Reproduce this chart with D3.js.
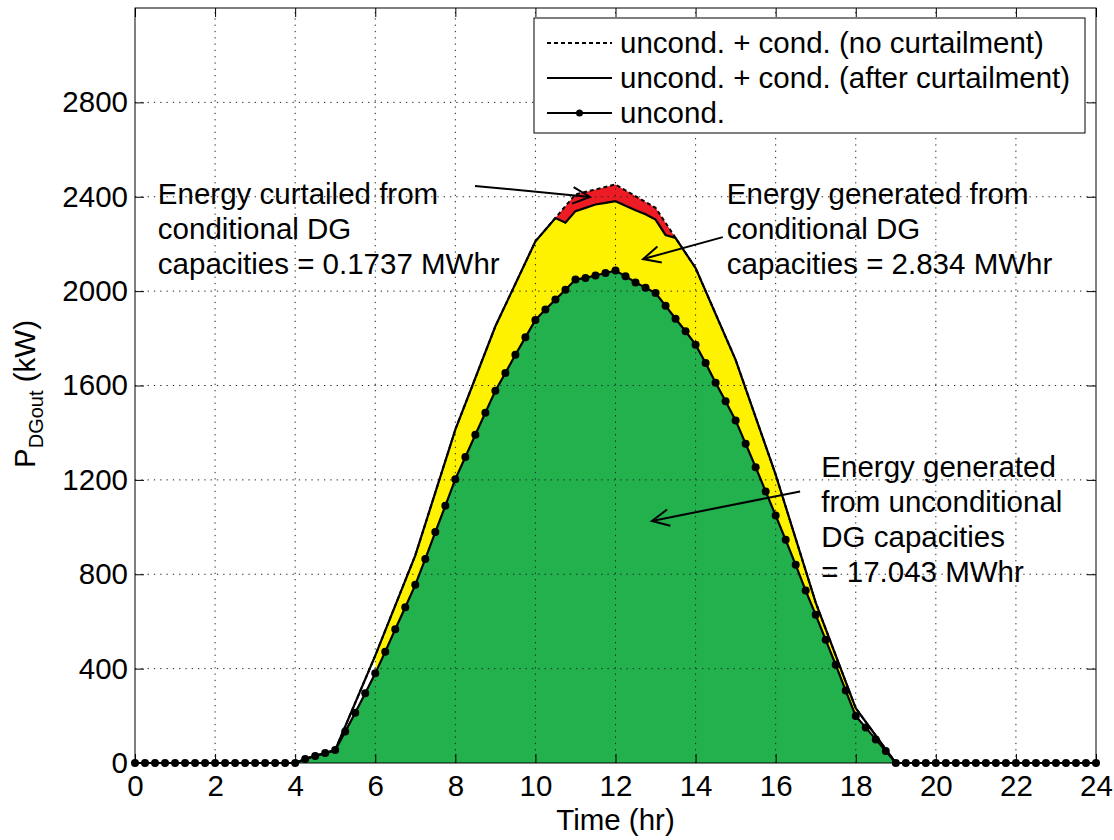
<!DOCTYPE html>
<html>
<head>
<meta charset="utf-8">
<script src="https://cdn.jsdelivr.net/npm/d3@7"></script>
<style>
  body { margin: 0; background: #fff; }
  svg { display: block; }
  text { font-family: "Liberation Sans", Arial, Helvetica, sans-serif; fill: #000; }
</style>
</head>
<body>
<svg id="chart" width="1114" height="840"></svg>
<script>
// Unconditional DG output, sampled every 15 minutes from 0:00 to 24:00 (kW)
const uncondTimes = d3.range(0, 24.001, 0.25);
const uncondKW = [
  0, 0, 0, 0, 0, 0, 0, 0, 0, 0, 0, 0, 0, 0, 0, 0, 0,          // 0:00 - 4:00
  17, 30, 42, 55,                                              // 4:15 - 5:00
  133, 213, 296, 380, 472, 567, 660, 755,                      // 5:15 - 7:00
  865, 979, 1090, 1203, 1297, 1391, 1485, 1578,                // 7:15 - 9:00
  1653, 1730, 1804, 1878, 1922, 1964, 2006, 2049,              // 9:15 - 11:00
  2056, 2066, 2077, 2087, 2063, 2037, 2014, 1992,              // 11:15 - 13:00
  1938, 1883, 1830, 1773, 1695, 1612, 1533, 1452,              // 13:15 - 15:00
  1353, 1254, 1151, 1049, 946, 840, 731, 628,                  // 15:15 - 17:00
  522, 416, 307, 199, 150, 100, 51, 0,                         // 17:15 - 19:00
  0, 0, 0, 0, 0, 0, 0, 0, 0, 0, 0, 0, 0, 0, 0, 0, 0, 0, 0, 0   // 19:15 - 24:00
];

// Unconditional + conditional output without curtailment (kW)
const noCurtTimes = [0, 4, 4.25, 4.5, 4.75, 5, 6, 7, 8, 9, 10, 11, 12, 13, 14, 15, 16, 17, 18, 19, 24];
const noCurtKW    = [0, 0, 17, 30, 42, 55, 455, 880, 1413, 1851, 2211, 2410, 2452, 2353, 2098, 1709, 1222, 680, 232, 0, 0];

// Unconditional + conditional output after curtailment (kW)
const afterCurtTimes = [0, 4, 4.25, 4.5, 4.75, 5, 6, 7, 8, 9, 10, 10.5, 10.75, 11, 11.25, 11.5, 11.75, 12,
                        12.25, 12.5, 12.75, 13, 13.25, 13.5, 14, 15, 16, 17, 18, 19, 24];
const afterCurtKW    = [0, 0, 17, 30, 42, 55, 455, 880, 1413, 1851, 2211, 2310, 2290, 2339, 2353, 2367, 2374, 2381,
                        2362, 2343, 2326, 2303, 2238, 2225, 2098, 1709, 1222, 680, 232, 0, 0];

// Window over which the conditional energy band is shaded (hr)
const condBandStart = 6;
const condBandEnd = 18;

const xTicks = [0, 2, 4, 6, 8, 10, 12, 14, 16, 18, 20, 22, 24];
const yTicks = [0, 400, 800, 1200, 1600, 2000, 2400, 2800];

const legendLabels = [
  "uncond. + cond. (no curtailment)",
  "uncond. + cond. (after curtailment)",
  "uncond."
];

// Annotation texts, anchor (hr, kW) and arrow tail/tip (hr, kW)
const notes = [
  { lines: ["Energy curtailed from", "conditional DG", "capacities = 0.1737 MWhr"],
    at: [0.57, 2370], tail: [8.49, 2446], tip: [11.36, 2399] },
  { lines: ["Energy generated from", "conditional DG", "capacities = 2.834 MWhr"],
    at: [14.78, 2370], tail: [14.68, 2229], tip: [12.69, 2136] },
  { lines: ["Energy generated", "from unconditional", "DG capacities", "= 17.043 MWhr"],
    at: [17.14, 1213], tail: [16.61, 1151], tip: [12.91, 1026] }
];

const FS = 29.5;
const svg = d3.select("#chart");

const x = d3.scaleLinear().domain([0, 24]).range([135, 1096]);
const y = d3.scaleLinear().domain([0, 3200]).range([763, 8]);

const uncond = uncondTimes.map((t, i) => [t, uncondKW[i]]);
const noCurt = noCurtTimes.map((t, i) => [t, noCurtKW[i]]);
const afterCurt = afterCurtTimes.map((t, i) => [t, afterCurtKW[i]]);

const line = d3.line().x(d => x(d[0])).y(d => y(d[1]));
const area = d3.area().x(d => x(d[0])).y0(y(0)).y1(d => y(d[1]));

// Energy regions
svg.append("path").attr("d", area(uncond)).attr("fill", "#22b14c");

const inBand = d => d[0] >= condBandStart && d[0] <= condBandEnd;
const yellowPts = afterCurt.filter(inBand).concat(uncond.filter(inBand).reverse());
svg.append("path").attr("d", line(yellowPts) + "Z").attr("fill", "#fff200");

const redPts = noCurt.concat(afterCurt.slice().reverse());
svg.append("path").attr("d", line(redPts) + "Z").attr("fill", "#ed1c24");

// Dotted grid
const grid = svg.append("g").attr("stroke", "#222").attr("stroke-width", 1)
  .attr("stroke-dasharray", "1.3,5");
grid.selectAll("line.gx").data(xTicks.slice(1, -1)).join("line")
  .attr("x1", d => x(d)).attr("x2", d => x(d)).attr("y1", y(0)).attr("y2", y(3200));
grid.selectAll("line.gy").data(yTicks.slice(1)).join("line")
  .attr("x1", x(0)).attr("x2", x(24)).attr("y1", d => y(d)).attr("y2", d => y(d));

// Curves
svg.append("path").attr("d", line(noCurt)).attr("fill", "none").attr("stroke", "#000")
  .attr("stroke-width", 2).attr("stroke-dasharray", "4,3");
svg.append("path").attr("d", line(afterCurt)).attr("fill", "none").attr("stroke", "#000")
  .attr("stroke-width", 2.2);
svg.append("path").attr("d", line(uncond)).attr("fill", "none").attr("stroke", "#000")
  .attr("stroke-width", 2.2);
svg.append("g").selectAll("circle").data(uncond).join("circle")
  .attr("cx", d => x(d[0])).attr("cy", d => y(d[1])).attr("r", 4).attr("fill", "#000");

// Axes with inward ticks on all four sides
function styleAxis(g) {
  g.select(".domain").remove();
  g.selectAll(".tick line").attr("stroke", "#000").attr("stroke-width", 1);
  g.selectAll(".tick text").attr("font-size", FS).attr("font-family", null).attr("fill", "#000");
  g.attr("font-family", null).attr("font-size", null);
}
svg.append("g").attr("transform", `translate(0,${y(0)})`)
  .call(d3.axisBottom(x).tickValues(xTicks).tickFormat(d3.format("d"))
        .tickSizeInner(-9).tickSizeOuter(0).tickPadding(12))
  .call(styleAxis);
svg.append("g").attr("transform", `translate(${x(0)},0)`)
  .call(d3.axisLeft(y).tickValues(yTicks).tickFormat(d3.format("d"))
        .tickSizeInner(-9).tickSizeOuter(0).tickPadding(7))
  .call(styleAxis);
svg.append("g").attr("transform", `translate(0,${y(3200)})`)
  .call(d3.axisTop(x).tickValues(xTicks).tickFormat("").tickSizeInner(-9).tickSizeOuter(0))
  .call(styleAxis);
svg.append("g").attr("transform", `translate(${x(24)},0)`)
  .call(d3.axisRight(y).tickValues(yTicks).tickFormat("").tickSizeInner(-9).tickSizeOuter(0))
  .call(styleAxis);

svg.append("rect")
  .attr("x", x(0)).attr("y", y(3200)).attr("width", x(24) - x(0)).attr("height", y(0) - y(3200))
  .attr("fill", "none").attr("stroke", "#000").attr("stroke-width", 1);

// Axis titles
svg.append("text").attr("x", (x(0) + x(24)) / 2).attr("y", 830)
  .attr("text-anchor", "middle").attr("font-size", FS).text("Time (hr)");
const yTitle = svg.append("text").attr("transform", "translate(35,394) rotate(-90)")
  .attr("text-anchor", "middle").attr("font-size", FS);
yTitle.append("tspan").text("P");
yTitle.append("tspan").attr("font-size", 20).attr("dy", 8).text("DGout");
yTitle.append("tspan").attr("dy", -8).text(" (kW)");

// Legend
const lg = svg.append("g");
lg.append("rect").attr("x", 534).attr("y", 18).attr("width", 551).attr("height", 115)
  .attr("fill", "#fff").attr("stroke", "#000").attr("stroke-width", 1);
const rowY = [43, 78, 113];
const styles = [
  { dash: "4,3", dot: false },
  { dash: null, dot: false },
  { dash: null, dot: true }
];
legendLabels.forEach((lab, i) => {
  lg.append("line").attr("x1", 547).attr("x2", 612).attr("y1", rowY[i]).attr("y2", rowY[i])
    .attr("stroke", "#000").attr("stroke-width", 2).attr("stroke-dasharray", styles[i].dash);
  if (styles[i].dot) {
    lg.append("circle").attr("cx", 579.5).attr("cy", rowY[i]).attr("r", 3.5).attr("fill", "#000");
  }
  lg.append("text").attr("x", 620).attr("y", rowY[i] + 9.5).attr("font-size", FS).text(lab);
});

// Annotations with open arrowheads
const ann = svg.append("g");
notes.forEach(n => {
  const t = ann.append("text").attr("font-size", FS);
  n.lines.forEach((s, i) => {
    t.append("tspan").attr("x", x(n.at[0])).attr("y", y(n.at[1]) + i * 35).text(s);
  });
  const x0 = x(n.tail[0]), y0 = y(n.tail[1]), x1 = x(n.tip[0]), y1 = y(n.tip[1]);
  const ang = Math.atan2(y1 - y0, x1 - x0);
  const L = 19, spread = 0.45;
  const head = [
    [x1 - L * Math.cos(ang - spread), y1 - L * Math.sin(ang - spread)],
    [x1, y1],
    [x1 - L * Math.cos(ang + spread), y1 - L * Math.sin(ang + spread)]
  ];
  ann.append("line").attr("x1", x0).attr("y1", y0).attr("x2", x1).attr("y2", y1)
    .attr("stroke", "#000").attr("stroke-width", 2);
  ann.append("path").attr("d", d3.line()(head)).attr("fill", "none")
    .attr("stroke", "#000").attr("stroke-width", 2);
});
</script>
</body>
</html>
